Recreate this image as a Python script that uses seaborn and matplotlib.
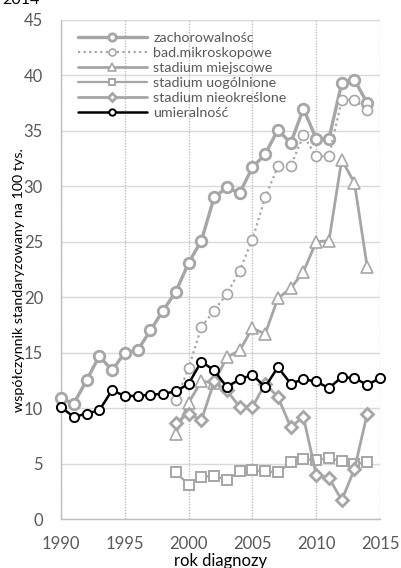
import numpy as np
import pandas as pd
import matplotlib
matplotlib.use("Agg")
import matplotlib.pyplot as plt
import seaborn as sns

# Standardized incidence and mortality rates per 100k, by year of diagnosis
years_full = list(range(1990, 2015))
years_mort = list(range(1990, 2016))
years_stage = list(range(1999, 2015))

zachorowalnosc = [10.9, 10.4, 12.5, 14.7, 13.4, 15.0, 15.2, 17.0, 18.8, 20.5,
                  23.1, 25.1, 29.0, 29.9, 29.4, 31.7, 32.9, 35.1, 33.9, 37.0,
                  34.3, 34.3, 39.3, 39.6, 37.5]
bad_mikroskopowe = [10.7, 13.6, 17.3, 18.8, 20.3, 22.4, 25.2, 29.0, 31.8, 31.8,
                    34.6, 32.7, 32.7, 37.8, 37.8, 36.9]
stadium_miejscowe = [7.7, 10.5, 12.4, 12.3, 14.6, 15.2, 17.2, 16.7, 19.9, 20.8,
                     22.3, 25.0, 25.1, 32.4, 30.3, 22.7]
stadium_uogolnione = [4.2, 3.1, 3.8, 3.9, 3.5, 4.3, 4.4, 4.3, 4.2, 5.1,
                      5.4, 5.3, 5.5, 5.2, 5.0, 5.1]
stadium_nieokreslone = [8.7, 9.5, 8.9, 12.4, 11.6, 10.1, 10.1, 12.2, 11.0, 8.3,
                        9.2, 4.0, 3.7, 1.7, 4.5, 9.5]
umieralnosc = [10.1, 9.2, 9.5, 9.8, 11.6, 11.1, 11.1, 11.2, 11.3, 11.5,
               12.2, 14.2, 13.4, 11.9, 12.6, 13.0, 11.9, 13.7, 12.2, 12.6,
               12.4, 11.8, 12.8, 12.7, 12.1, 12.7]

labels = ["zachorowalnośc", "bad.mikroskopowe", "stadium miejscowe",
          "stadium uogólnione", "stadium nieokreślone", "umieralność"]
x_ticks = [1990, 1995, 2000, 2005, 2010, 2015]
y_ticks = [0, 5, 10, 15, 20, 25, 30, 35, 40, 45]

sns.set_style("white")
plt.rcParams["font.family"] = ["Lato", "DejaVu Sans"]

fig = plt.figure(figsize=(4.01, 5.68), dpi=100)
ax = fig.add_axes([61 / 401, 1 - 519 / 568, (380 - 61) / 401, (519 - 20) / 568])

gray = "#a6a6a6"
series = [
    (years_full, zachorowalnosc, dict(color=gray, lw=2.4, ls="-", marker="o", ms=7.6,
                                      mew=2.0, mec=gray)),
    (years_stage, bad_mikroskopowe, dict(color=gray, lw=1.6, ls=(0, (1, 1.5)), marker="o",
                                         ms=7.2, mew=1.2, mec=gray)),
    (years_stage, stadium_miejscowe, dict(color=gray, lw=2.0, ls="-", marker="^", ms=8.5,
                                          mew=1.2, mec=gray)),
    (years_stage, stadium_uogolnione, dict(color=gray, lw=1.6, ls="-", marker="s", ms=7.0,
                                           mew=1.4, mec=gray)),
    (years_stage, stadium_nieokreslone, dict(color=gray, lw=2.0, ls="-", marker="D", ms=6.4,
                                             mew=2.0, mec=gray)),
    (years_mort, umieralnosc, dict(color="black", lw=1.8, ls="-", marker="o", ms=6.6,
                                   mew=1.4, mec="black")),
]

for (xs, ys, style), lab in zip(series, labels):
    df = pd.DataFrame({"rok": xs, "wartosc": ys})
    sns.lineplot(data=df, x="rok", y="wartosc", ax=ax, label=lab, mfc="white",
                 zorder=3, clip_on=False, **style)

ax.set_xlim(1990, 2015)
ax.set_ylim(0, 45)
ax.set_xticks(x_ticks)
ax.set_yticks(y_ticks)
ax.tick_params(axis="both", length=0, labelsize=12, labelcolor="#595959")
ax.tick_params(axis="x", pad=12)
ax.tick_params(axis="y", pad=13)

ax.grid(axis="y", color="#d9d9d9", lw=1.0, ls="-", zorder=0)
ax.grid(axis="x", color="#c0c0c0", lw=1.0, ls=(0, (1, 1)), zorder=0)
for side in ["top", "right"]:
    ax.spines[side].set_visible(False)
for side in ["left", "bottom"]:
    ax.spines[side].set_color("#bfbfbf")
    ax.spines[side].set_linewidth(1.0)

ax.set_xlabel("rok diagnozy", fontsize=12, color="black", labelpad=1)
ax.set_ylabel("współczynnik standaryzowany na 100 tys.", fontsize=10.3, color="black")
ax.yaxis.set_label_coords(-0.113, 0.479)

leg = ax.legend(loc="upper left", frameon=False, fontsize=10.3, handlelength=4.8,
                labelspacing=0.22, borderaxespad=0.3, handletextpad=0.45,
                bbox_to_anchor=(0.022, 0.997))
for h in leg.legend_handles:
    h.set_markersize(h.get_markersize() * 0.7)
for t in leg.get_texts():
    t.set_color("#595959")

fig.text(2 / 401, 1 - 4 / 568, "2014", fontsize=11.5, color="black", va="baseline")

fig.savefig("out.png", dpi=100)
